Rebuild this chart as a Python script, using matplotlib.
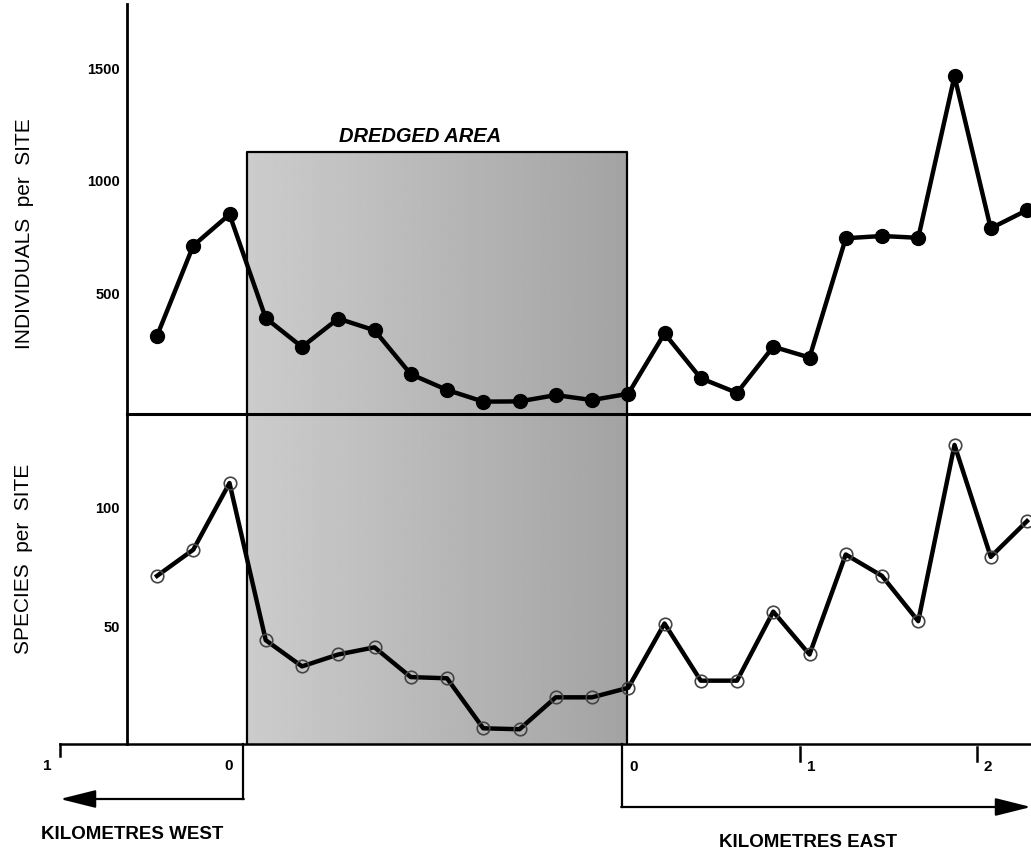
import numpy as np
import matplotlib
matplotlib.use("Agg")
import matplotlib.pyplot as plt

# ---------------- data ----------------
sites = np.arange(25)
individuals = [305, 706, 845, 384, 256, 382, 330, 135, 65, 13, 14, 42, 20, 48,
               316, 117, 52, 257, 209, 739, 749, 741, 1459, 783, 864]
species = [71, 82, 110, 44, 33, 38, 41, 28.5, 28, 7, 6.6, 20, 20, 24,
           51, 27, 27, 56, 38, 80, 71, 52, 126, 79, 94]
ind_ticks = [500, 1000, 1500]
spp_ticks = [50, 100]
west_km = [1, 0]
east_km = [0, 1, 2]

main = "Liberation Sans"

W, H = 1031, 854
fig = plt.figure(figsize=(W / 100, H / 100), dpi=100)

# pixel-space helper axes (background drawing, annotations)
ov = fig.add_axes([0, 0, 1, 1], zorder=0)
ov.set_xlim(0, W)
ov.set_ylim(H, 0)
ov.axis("off")

def fx(px):
    return px / W

def fy(py):
    return 1 - py / H

ax_left, ax_right = 127, 1031
mid_y, top_y, bot_y = 415, 5, 745

# data axes
site0, step = 157, 36.25
xlim = ((ax_left - site0) / step, (ax_right - site0) / step)

ax1 = fig.add_axes([fx(ax_left), fy(mid_y), fx(ax_right) - fx(ax_left), fy(top_y) - fy(mid_y)], zorder=2)
ax2 = fig.add_axes([fx(ax_left), fy(bot_y), fx(ax_right) - fx(ax_left), fy(mid_y) - fy(bot_y)], zorder=2)
for a in (ax1, ax2):
    a.patch.set_alpha(0)
    a.set_xlim(*xlim)
    a.spines["top"].set_visible(False)
    a.spines["right"].set_visible(False)
    a.spines["left"].set_linewidth(2.0)
    a.set_xticks([])
    a.tick_params(axis="y", length=0, pad=5)
ax1.spines["bottom"].set_linewidth(2.2)
ax2.spines["bottom"].set_visible(False)

ax1.set_ylim(-42, 1780)
ax2.set_ylim(0.4, 139)
ax1.set_yticks(ind_ticks)
ax1.set_yticklabels([str(t) for t in ind_ticks], fontsize=10.5, fontweight="bold", family=main)
ax2.set_yticks(spp_ticks)
ax2.set_yticklabels([str(t) for t in spp_ticks], fontsize=10.5, fontweight="bold", family=main)

ax1.plot(sites, individuals, color="black", lw=3.2, marker="o", ms=10,
         mfc="black", mec="black", zorder=3, clip_on=False)
ax2.plot(sites, species, color="black", lw=3.2, zorder=3, clip_on=False)
ax2.plot(sites, species, ls="none", marker="o", ms=9, mfc="none",
         mec="#444444", mew=1.2, zorder=4, clip_on=False)

# dredged area shading
rx0, rx1, ry0, ry1 = 247, 627, 153, bot_y
grad = np.linspace(0.80, 0.64, 200)[None, :] * np.ones((50, 1))
ov.imshow(grad, cmap="gray", vmin=0, vmax=1, extent=[rx0, rx1, ry1, ry0],
          aspect="auto", interpolation="bilinear", zorder=1)
ov.plot([rx0, rx0, rx1, rx1], [ry1, ry0, ry0, ry1], color="black", lw=1.6, zorder=2)
ov.text(420, 137, "DREDGED AREA", ha="center", va="center",
        fontsize=14.5, fontweight="bold", fontstyle="italic", family=main)

# kilometre scale
ov.plot([60, W], [bot_y, bot_y], color="black", lw=1.8, zorder=2)
west0, west_px = 243, 183
east0, east_px = 622, 177.5
for km in west_km:
    x = west0 - km * west_px
    if km != 0:
        ov.plot([x, x], [bot_y, bot_y + 12], color="black", lw=1.8)
    ov.text(x - 8 if km != 0 else x - 10, bot_y + 21, str(km), ha="right", va="center",
            fontsize=11, fontweight="bold", family=main)
for km in east_km:
    x = east0 + km * east_px
    if km != 0:
        ov.plot([x, x], [bot_y + 3, bot_y + 17], color="black", lw=1.8)
    ov.text(x + 7, bot_y + 22, str(km), ha="left", va="center",
            fontsize=11, fontweight="bold", family=main)

# direction brackets / arrows
ov.plot([west0, west0], [bot_y, 800], color="black", lw=1.6)
ov.annotate("", xy=(60, 800), xytext=(west0 + 0.8, 800),
            arrowprops=dict(arrowstyle="-|>,head_length=2.2,head_width=0.55",
                            color="black", lw=1.6, shrinkA=0, shrinkB=0))
ov.plot([east0, east0], [bot_y, 808], color="black", lw=1.6)
ov.annotate("", xy=(1031, 808), xytext=(east0 - 0.8, 808),
            arrowprops=dict(arrowstyle="-|>,head_length=2.2,head_width=0.55",
                            color="black", lw=1.6, shrinkA=0, shrinkB=0))

ov.text(132, 835, "KILOMETRES WEST", ha="center", va="center",
        fontsize=13.5, fontweight="bold", family=main)
ov.text(808, 843, "KILOMETRES EAST", ha="center", va="center",
        fontsize=13.5, fontweight="bold", family=main)

# axis titles
ov.text(25, 234, "INDIVIDUALS  per  SITE", rotation=90, ha="center", va="center",
        fontsize=15, family=main)
ov.text(24, 559, "SPECIES  per  SITE", rotation=90, ha="center", va="center",
        fontsize=15, family=main)

fig.savefig("out.png", dpi=100)
